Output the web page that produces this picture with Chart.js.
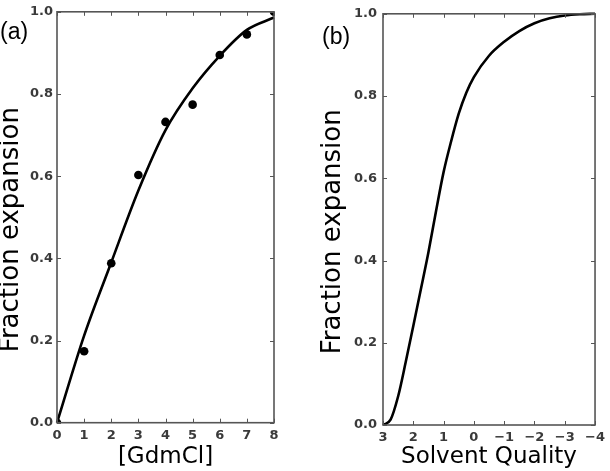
<!DOCTYPE html>
<html>
<head>
<meta charset="utf-8">
<script src="https://cdn.jsdelivr.net/npm/chart.js@4/dist/chart.umd.min.js"></script>
<style>
  html, body { margin:0; padding:0; background:#fff; }
  body { width:610px; height:471px; position:relative; overflow:hidden; }
  .wrap { position:absolute; top:0; height:471px; }
  .lab { position:absolute; font-family:"Liberation Sans", Arial, sans-serif; font-size:23px; line-height:23px; color:#000; }
</style>
</head>
<body>
<div class="wrap" style="left:0;width:305px;"><canvas id="c1" width="305" height="471"></canvas></div>
<div class="wrap" style="left:305px;width:305px;"><canvas id="c2" width="305" height="471"></canvas></div>
<div class="lab" style="left:0px;top:20px;">(a)</div>
<div class="lab" style="left:322px;top:25px;">(b)</div>
<script>
// ---- data ----
const gdmConc = [0, 1, 2, 3, 4, 5, 6, 7, 8];
const measuredExpansion = [0.0, 0.174, 0.388, 0.603, 0.732, 0.774, 0.895, 0.945, 1.0];
const fitExpansion = [0.0, 0.212, 0.39, 0.565, 0.712, 0.814, 0.893, 0.956, 0.986];

const solventQuality = [3, 2.75, 2.5, 2.25, 2, 1.75, 1.5, 1.25, 1, 0.75, 0.5, 0.25, 0, -0.5, -1, -1.5, -2, -2.5, -3, -3.5, -4];
const expansionCurve = [0.0, 0.013, 0.07, 0.153, 0.241, 0.33, 0.42, 0.52, 0.615, 0.69, 0.757, 0.808, 0.846, 0.898, 0.932, 0.958, 0.977, 0.989, 0.996, 0.999, 1.0];

const yTickValues = [0, 0.2, 0.4, 0.6, 0.8, 1.0];
const yTitle = 'Fraction expansion';
const xTitleA = '[GdmCl]';
const xTitleB = 'Solvent Quality';

Chart.defaults.devicePixelRatio = 1;
Chart.defaults.font.family = '"DejaVu Sans", sans-serif';

const frameTicks = {
  id: 'frameTicks',
  afterDatasetsDraw(chart) {
    const {ctx, chartArea: a, scales: {x, y}} = chart;
    const L = 4;
    ctx.save();
    ctx.strokeStyle = '#555';
    ctx.lineWidth = 1;
    ctx.beginPath();
    x.ticks.forEach(t => {
      const px = Math.round(x.getPixelForValue(t.value)) + 0.5;
      ctx.moveTo(px, a.bottom); ctx.lineTo(px, a.bottom - L);
      ctx.moveTo(px, a.top); ctx.lineTo(px, a.top + L);
    });
    y.ticks.forEach(t => {
      const py = Math.round(y.getPixelForValue(t.value)) + 0.5;
      ctx.moveTo(a.left, py); ctx.lineTo(a.left + L, py);
      ctx.moveTo(a.right, py); ctx.lineTo(a.right - L, py);
    });
    ctx.stroke();
    ctx.lineWidth = 1.6;
    ctx.strokeRect(a.left, a.top, a.right - a.left, a.bottom - a.top);
    ctx.restore();
  }
};

const tickFont = { family: '"DejaVu Sans", sans-serif', size: 13, weight: 'bold' };
const titleFont = { family: '"DejaVu Sans", sans-serif', size: 23, lineHeight: 1.2 };
const yTitleFont = { family: '"DejaVu Sans", sans-serif', size: 26, lineHeight: 0.9 };
const fmtY = v => Number(v).toFixed(1);
const fmtX = v => (v < 0 ? '\u2212' + Math.abs(v) : String(v));

function yScale(width, pad) {
  return {
    type: 'linear', min: 0, max: 1,
    afterBuildTicks: s => { s.ticks = yTickValues.map(v => ({ value: v })); },
    ticks: { font: tickFont, color: '#3a3a3a', padding: pad, callback: fmtY },
    grid: { display: false, drawTicks: false },
    border: { display: false },
    title: { display: true, text: yTitle + '   ', font: yTitleFont, color: '#000', padding: 0 },
    afterFit: s => { s.width = width; }
  };
}

new Chart(document.getElementById('c1'), {
  type: 'scatter',
  data: {
    datasets: [
      {
        data: gdmConc.map((x, i) => ({ x, y: fitExpansion[i] })),
        showLine: true, borderColor: '#000', borderWidth: 2.6, pointRadius: 0,
        cubicInterpolationMode: 'monotone', clip: 3
      },
      {
        data: gdmConc.map((x, i) => ({ x, y: measuredExpansion[i] })),
        showLine: false, pointRadius: 4.3, pointBackgroundColor: '#000', pointBorderColor: '#000',
        pointBorderWidth: 0, clip: 0
      }
    ]
  },
  options: {
    responsive: false, animation: false,
    layout: { padding: { left: 0, right: 31, top: 9.3, bottom: 0 } },
    plugins: { legend: { display: false }, tooltip: { enabled: false } },
    scales: {
      x: {
        type: 'linear', min: 0, max: 8,
        ticks: { stepSize: 1, font: tickFont, color: '#3a3a3a', padding: 5, maxRotation: 0, autoSkip: false, callback: fmtX },
        grid: { display: false, drawTicks: false },
        border: { display: false },
        title: { display: true, text: xTitleA, font: titleFont, color: '#000', padding: 0 },
        afterFit: s => { s.height = 48.3; }
      },
      y: yScale(57, 4)
    }
  },
  plugins: [frameTicks]
});

new Chart(document.getElementById('c2'), {
  type: 'scatter',
  data: {
    datasets: [
      {
        data: solventQuality.map((x, i) => ({ x, y: expansionCurve[i] })),
        showLine: true, borderColor: '#000', borderWidth: 2.6, pointRadius: 0,
        cubicInterpolationMode: 'monotone', clip: 3
      }
    ]
  },
  options: {
    responsive: false, animation: false,
    layout: { padding: { left: 17, right: 11, top: 7.5, bottom: 0 } },
    plugins: { legend: { display: false }, tooltip: { enabled: false } },
    scales: {
      x: {
        type: 'linear', min: -4, max: 3, reverse: true,
        ticks: { stepSize: 1, font: tickFont, color: '#3a3a3a', padding: 5, maxRotation: 0, autoSkip: false, callback: fmtX },
        grid: { display: false, drawTicks: false },
        border: { display: false },
        title: { display: true, text: xTitleB, font: titleFont, color: '#000', padding: 0 },
        afterFit: s => { s.height = 46; }
      },
      y: yScale(61, 6)
    }
  },
  plugins: [frameTicks]
});
</script>
</body>
</html>
